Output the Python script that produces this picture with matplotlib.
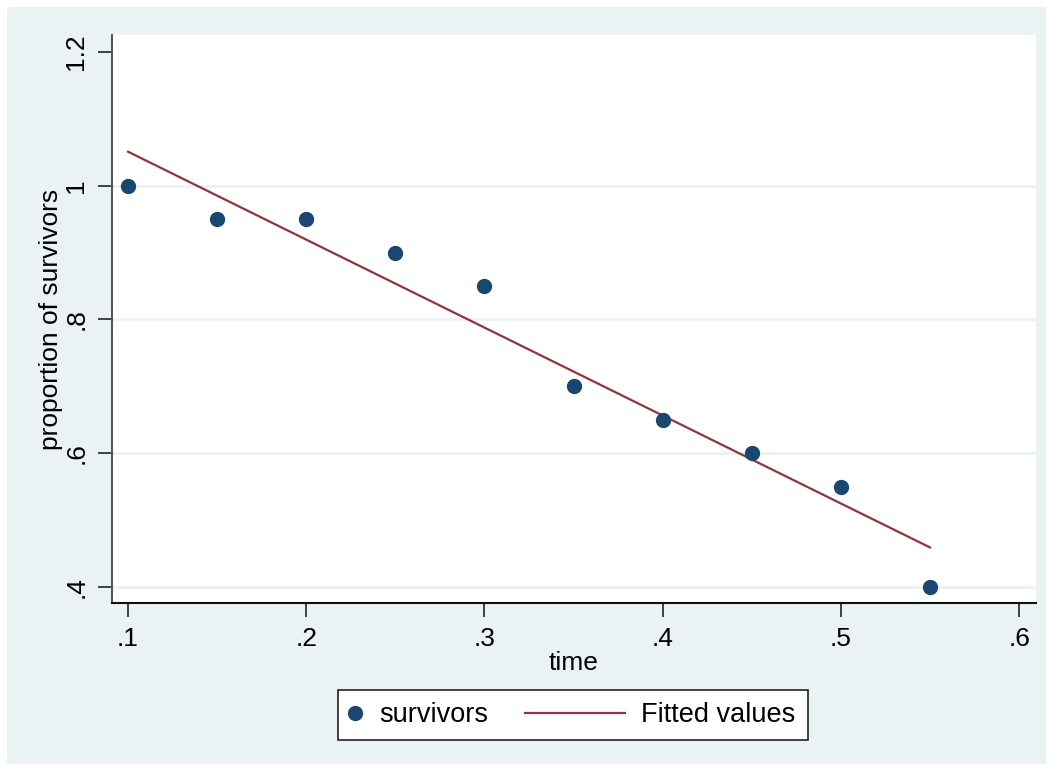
import numpy as np
import matplotlib.pyplot as plt
from matplotlib.patches import Rectangle

plt.rcParams['font.family'] = ['Liberation Sans', 'DejaVu Sans']

# survivors data
time = [0.10, 0.15, 0.20, 0.25, 0.30, 0.35, 0.40, 0.45, 0.50, 0.55]
survivors = [1.00, 0.95, 0.95, 0.90, 0.85, 0.70, 0.65, 0.60, 0.55, 0.40]
x_ticks = [0.1, 0.2, 0.3, 0.4, 0.5, 0.6]
x_tick_labels = ['.1', '.2', '.3', '.4', '.5', '.6']
y_ticks = [0.4, 0.6, 0.8, 1.0, 1.2]
y_tick_labels = ['.4', '.6', '.8', '1', '1.2']

# linear fit, like Stata's lfit
slope, intercept = np.polyfit(time, survivors, 1)
fit_x = [time[0], time[-1]]
fit_y = [intercept + slope * v for v in fit_x]

bg = '#eaf2f3'
navy = '#1a476f'
maroon = '#90353b'
W, H = 1053, 771


def fx(px):
    return px / W


def fy(py):
    return 1 - py / H


fig = plt.figure(figsize=(W / 100, H / 100), dpi=100)
fig.patch.set_facecolor('white')
# light outer region of the Stata s2color scheme
fig.add_artist(Rectangle((fx(7), fy(764)), fx(1039), 757 / H,
                         transform=fig.transFigure, facecolor=bg,
                         edgecolor='none', zorder=-10))

ax = fig.add_axes([fx(112), fy(603), fx(924), 568 / H])
ax.set_zorder(1)
ax.set_facecolor('white')

# grid lines (none at the top tick)
for yt in y_ticks[:-1]:
    ax.axhline(yt, color=bg, lw=2, zorder=1)

ax.plot(fit_x, fit_y, color=maroon, lw=1.6, zorder=2)
ax.plot(time, survivors, 'o', color=navy, ms=10, zorder=3)

ax.set_xlim(0.091, 0.6095)
ax.set_ylim(0.376, 1.2254)
ax.set_xticks(x_ticks)
ax.set_xticklabels(x_tick_labels)
ax.set_yticks(y_ticks)
ax.set_yticklabels(y_tick_labels, rotation=90, va='center')

ax.tick_params(axis='both', labelsize=19, length=10, width=1.2,
               color='#222222', pad=7)
ax.tick_params(axis='x', pad=7)

for s in ['top', 'right']:
    ax.spines[s].set_visible(False)
ax.spines['left'].set_color('#555555')
ax.spines['left'].set_linewidth(1.5)
ax.spines['bottom'].set_color('#111111')
ax.spines['bottom'].set_linewidth(1.5)

ax.set_xlabel('time', fontsize=19, labelpad=0)
ax.set_ylabel('proportion of survivors', fontsize=19, labelpad=1)

# legend: white box with two entries
fig.add_artist(Rectangle((fx(338), fy(740)), fx(470), 50 / H,
                         transform=fig.transFigure, facecolor='white',
                         edgecolor='#222222', lw=1.2, zorder=5))
mk = plt.Line2D([], [], ls='none', marker='o', color=navy, ms=10)
ln = plt.Line2D([], [], color=maroon, lw=1.6)
leg1 = fig.legend([mk], ['survivors'], loc='center left',
                  bbox_to_anchor=(fx(341), fy(715)), frameon=False,
                  fontsize=19.5, handlelength=1.0, handletextpad=0.4,
                  borderpad=0, borderaxespad=0)
leg2 = fig.legend([ln], ['Fitted values'], loc='center left',
                  bbox_to_anchor=(fx(525), fy(715)), frameon=False,
                  fontsize=19.5, handlelength=3.7, handletextpad=0.6,
                  borderpad=0, borderaxespad=0)
leg1.set_zorder(6)
leg2.set_zorder(6)

fig.savefig('out.png', dpi=100, facecolor=fig.get_facecolor())
